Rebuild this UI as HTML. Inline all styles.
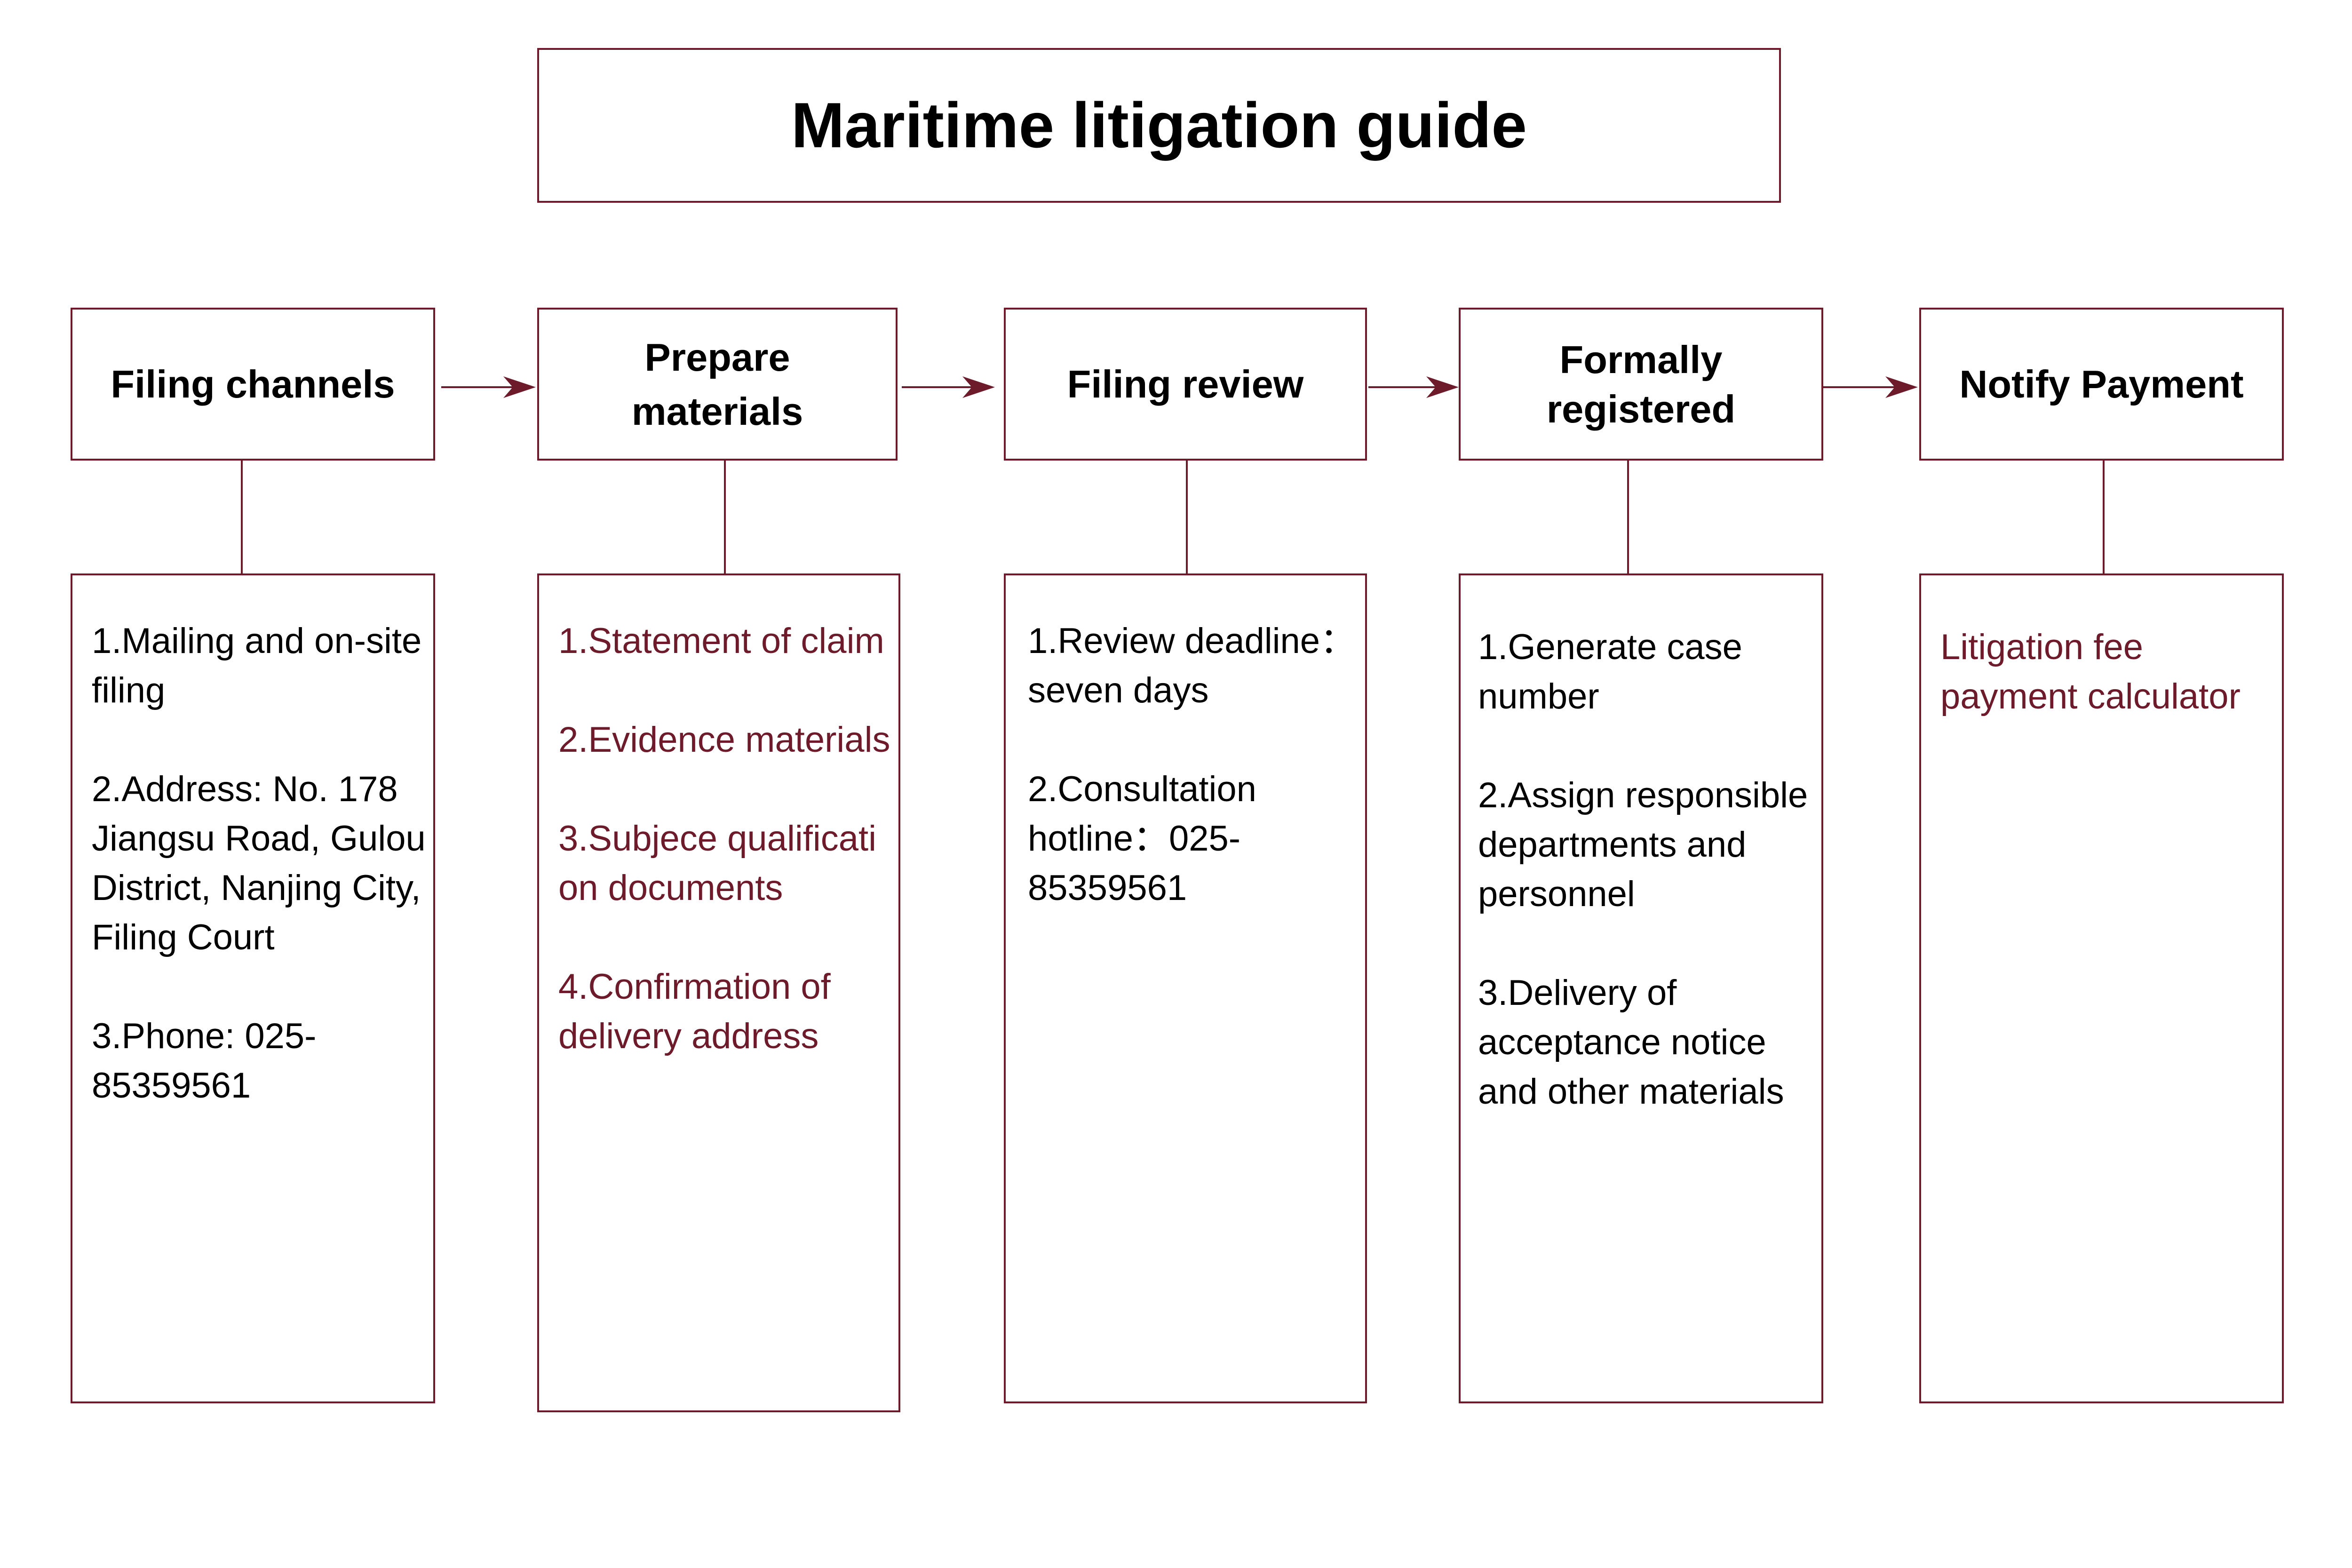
<!DOCTYPE html>
<html><head><meta charset="utf-8"><style>
body{margin:0;width:5150px;height:3333px;background:#fff;position:relative;overflow:hidden;font-family:"Liberation Sans",sans-serif}
.b{position:absolute;box-sizing:border-box;border:4px solid #6d1a2a;background:#fff}
.h{position:absolute;display:flex;align-items:center;justify-content:center;text-align:center;font-weight:bold;font-size:83px;line-height:115px;color:#000}
.t{position:absolute;font-size:76px;line-height:105px;color:#000;white-space:pre-line}
.r{color:#6d1a2a}
</style></head><body>
<svg width="5150" height="3333" style="position:absolute;left:0;top:0">
<g stroke="#6d1a2a" stroke-width="4" fill="none">
<line x1="514" y1="979" x2="514" y2="1223"/>
<line x1="1541" y1="979" x2="1541" y2="1223"/>
<line x1="2523" y1="979" x2="2523" y2="1223"/>
<line x1="3461" y1="979" x2="3461" y2="1223"/>
<line x1="4472" y1="979" x2="4472" y2="1223"/>
<line x1="938" y1="823" x2="1120" y2="823"/>
<line x1="1917" y1="823" x2="2095" y2="823"/>
<line x1="2909" y1="823" x2="3080" y2="823"/>
<line x1="3876" y1="823" x2="4060" y2="823"/>
</g>
<g fill="#6d1a2a">
<path d="M1139 823 L1070 800 L1090 823 L1070 846Z"/>
<path d="M2115 823 L2046 800 L2066 823 L2046 846Z"/>
<path d="M3101 823 L3032 800 L3052 823 L3032 846Z"/>
<path d="M4077 823 L4008 800 L4028 823 L4008 846Z"/>
</g>
</svg>
<div class="b" style="left:1142px;top:102px;width:2644px;height:329px"></div>
<div class="h" style="left:1142px;top:102px;width:2644px;height:329px;font-size:136px">Maritime litigation guide</div>

<div class="b" style="left:150px;top:654px;width:775px;height:325px"></div>
<div class="h" style="left:150px;top:654px;width:775px;height:325px">Filing channels</div>
<div class="b" style="left:1142px;top:654px;width:766px;height:325px"></div>
<div class="h" style="left:1142px;top:654px;width:766px;height:325px">Prepare<br>materials</div>
<div class="b" style="left:2134px;top:654px;width:772px;height:325px"></div>
<div class="h" style="left:2134px;top:654px;width:772px;height:325px">Filing review</div>
<div class="b" style="left:3101px;top:654px;width:775px;height:325px"></div>
<div class="h" style="left:3101px;top:654px;width:775px;height:325px;line-height:105px">Formally<br>registered</div>
<div class="b" style="left:4080px;top:654px;width:775px;height:325px"></div>
<div class="h" style="left:4080px;top:654px;width:775px;height:325px">Notify Payment</div>

<div class="b" style="left:150px;top:1219px;width:775px;height:1764px"></div>
<div class="b" style="left:1142px;top:1219px;width:772px;height:1783px"></div>
<div class="b" style="left:2134px;top:1219px;width:772px;height:1764px"></div>
<div class="b" style="left:3101px;top:1219px;width:775px;height:1764px"></div>
<div class="b" style="left:4080px;top:1219px;width:775px;height:1764px"></div>

<div class="t" style="left:195px;top:1310px">1.Mailing and on-site
filing

2.Address: No. 178
Jiangsu Road, Gulou
District, Nanjing City,
Filing Court

3.Phone: 025-
85359561</div>
<div class="t r" style="left:1187px;top:1310px">1.Statement of claim

2.Evidence materials

3.Subjece qualificati
on documents

4.Confirmation of
delivery address</div>
<div class="t" style="left:2185px;top:1310px">1.Review deadline：
seven days

2.Consultation
hotline：025-
85359561</div>
<div class="t" style="left:3142px;top:1323px">1.Generate case
number

2.Assign responsible
departments and
personnel

3.Delivery of
acceptance notice
and other materials</div>
<div class="t r" style="left:4125px;top:1323px">Litigation fee
payment calculator</div>
</body></html>
